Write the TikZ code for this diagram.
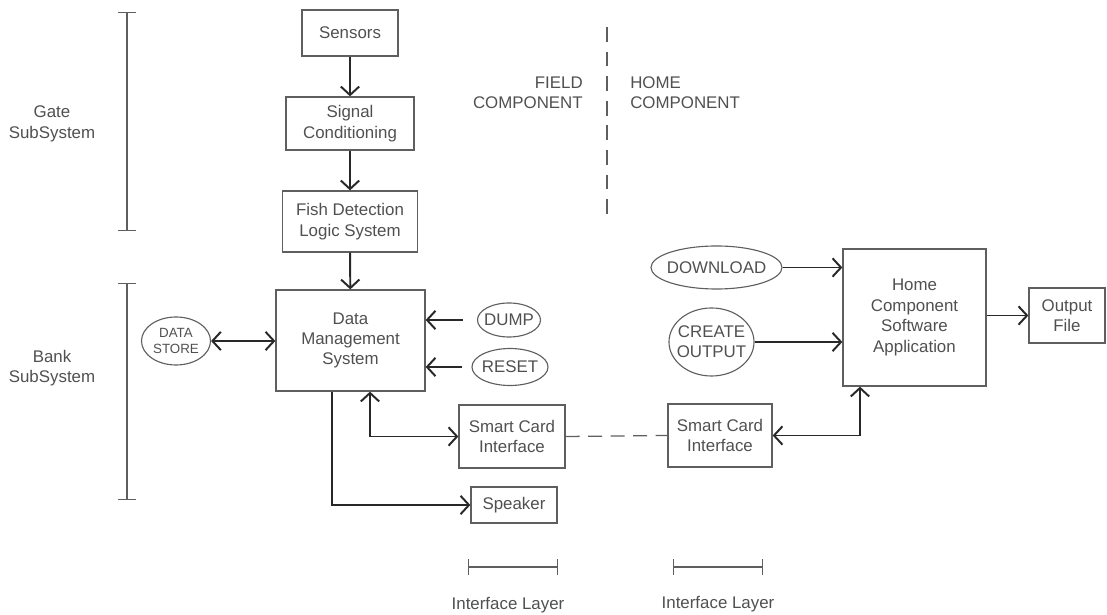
\documentclass[tikz,border=0pt]{standalone}
\usepackage{fontspec}
\setmainfont{Liberation Sans}
\usepackage{tikz}
\usetikzlibrary{calc, positioning, arrows.meta, shapes.geometric}
\definecolor{txtgray}{RGB}{80,80,80}
\definecolor{boxgray}{RGB}{95,95,95}
\definecolor{linegray}{RGB}{40,40,40}
\tikzstyle{blk}=[draw=boxgray, line width=0.9pt, shape=rectangle, inner sep=0pt, align=center, text=txtgray, font=\fontsize{12}{14.5}\selectfont]
\tikzstyle{ell}=[draw=boxgray, line width=0.8pt, shape=ellipse, inner sep=0pt, align=center, text=txtgray, font=\fontsize{12}{14.5}\selectfont]
\tikzstyle{lbl}=[inner sep=0pt, align=center, text=txtgray, font=\fontsize{12}{14.5}\selectfont]
\tikzstyle{arr}=[draw=linegray, line width=1.4pt]
\tikzstyle{bar}=[draw=boxgray, line width=0.9pt]
\tikzset{>={Straight Barb[length=6pt, width=13pt]}}

\begin{document}
\begin{tikzpicture}[x=0.025cm, y=-0.025cm]
\useasboundingbox (0,0) rectangle (1107,615);
% the field component chain
\node[blk, minimum width=2.4cm, minimum height=1.15cm] (sens) at (350,33) {Sensors};
\node[blk, minimum width=3.2cm, minimum height=1.325cm] (sig) at (350,123.5) {Signal\\Conditioning};
\node[blk, minimum width=3.375cm, minimum height=1.525cm] (fish) at (350,221.5) {Fish Detection\\Logic System};
\node[blk, minimum width=3.725cm, minimum height=2.525cm] (dms) at (350.5,340.5) {Data\\Management\\System};
\node[ell, minimum width=1.725cm, minimum height=1.2cm, font=\fontsize{9.5}{12}\selectfont] (ds) at (176,341) {DATA\\STORE};
\node[ell, minimum width=1.575cm, minimum height=0.85cm, inner xsep=-2.5pt] (dump) at (509,320) {DUMP};
\node[ell, minimum width=1.9cm, minimum height=0.925cm, inner xsep=-1.5pt] (reset) at (510,367) {RESET};
\node[blk, minimum width=2.65cm, minimum height=1.575cm] (sci1) at (512,436.5) {Smart Card\\Interface};
\node[blk, minimum width=2.15cm, minimum height=0.9cm] (spk) at (514,505) {Speaker};
% the home component
\node[blk, minimum width=2.6cm, minimum height=1.575cm] (sci2) at (720,435.5) {Smart Card\\Interface};
\node[blk, minimum width=3.575cm, minimum height=3.425cm] (home) at (914.5,317.5) {Home\\Component\\Software\\Application};
\node[ell, minimum width=3.275cm, minimum height=1.075cm, inner xsep=-2.5pt] (dl) at (716.5,267.5) {DOWNLOAD};
\node[ell, minimum width=2.125cm, minimum height=1.7cm, inner xsep=-3.3pt] (co) at (711.5,342) {CREATE\\OUTPUT};
\node[blk, minimum width=1.9cm, minimum height=1.375cm] (out) at (1067,315.5) {Output\\File};
%
% the labels
\node[lbl] (gate) at (52,124) {Gate\\SubSystem};
\node[lbl] (bank) at (52,368) {Bank\\SubSystem};
\node[lbl, anchor=east, align=right] (field) at (583,93) {FIELD\\COMPONENT};
\node[lbl, anchor=west, align=left] (homec) at (630,93) {HOME\\COMPONENT};
\node[lbl] (il1) at (508,605) {Interface Layer};
\node[lbl] (il2) at (718,604) {Interface Layer};
% the bar ends
\coordinate (g0) at (127,12);
\coordinate (g1) at (127,231);
\coordinate (b0) at (127,283);
\coordinate (b1) at (127,500);
\coordinate (i0) at (468,567);
\coordinate (i1) at (558,567);
\coordinate (j0) at (673,567);
\coordinate (j1) at (763,567);
\coordinate (d0) at (607,27);
\coordinate (d1) at (607,217);
%
% the straight arrows
\draw[arr, ->] (sens) -- (sig);
\draw[arr, ->] (sig) -- (fish);
\draw[arr, ->] (fish) -- (dms);
\draw[arr, <->] (ds.east) -- (ds.east -| dms.west);
\draw[arr, ->, shorten <=10pt] (dump.west) -- (dump.west -| dms.east);
\draw[arr, ->, shorten <=6.4pt] (reset.west) -- (reset.west -| dms.east);
\draw[arr, ->] (dl.east) -- (dl.east -| home.west);
\draw[arr, ->] (co.east) -- (co.east -| home.west);
\draw[arr, ->] (home.east |- out.west) -- (out.west);
% the bent arrows
\draw[arr, <->] ($(dms.south)+(19.5,0)$) |- (sci1.west);
\draw[arr, ->] ($(dms.south)+(-18.5,0)$) |- (spk.west);
\draw[arr, <->] ($(home.south)+(-54.5,0)$) |- (sci2.east);
% the link between the two cards
\draw[bar, dashed, dash pattern=on 10pt off 6pt] (sci1.east) -- (sci2.west);
% the range bars
\draw[bar, {Bar[width=13pt]}-{Bar[width=13pt]}] (g0) -- (g1);
\draw[bar, {Bar[width=13pt]}-{Bar[width=13pt]}] (b0) -- (b1);
\draw[bar, {Bar[width=11pt]}-{Bar[width=11pt]}] (i0) -- (i1);
\draw[bar, {Bar[width=11pt]}-{Bar[width=11pt]}] (j0) -- (j1);
\draw[bar, dash pattern=on 10.5pt off 7pt] (d0) -- (d1);
\end{tikzpicture}
\end{document}
